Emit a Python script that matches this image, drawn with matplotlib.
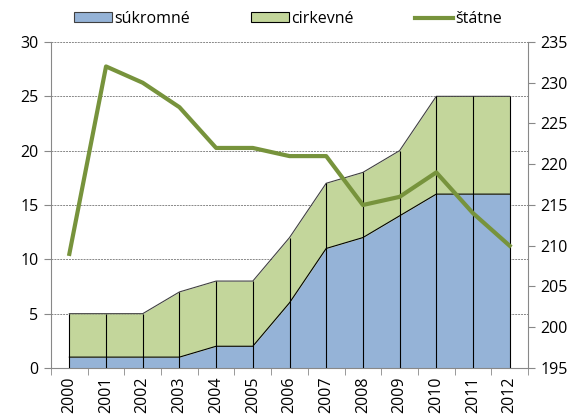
import numpy as np
import matplotlib.pyplot as plt
from matplotlib.lines import Line2D
from matplotlib.patches import Patch

plt.rcParams['font.family'] = ['Open Sans', 'DejaVu Sans']

years = ['2000', '2001', '2002', '2003', '2004', '2005', '2006',
         '2007', '2008', '2009', '2010', '2011', '2012']
sukromne = [1, 1, 1, 1, 2, 2, 6, 11, 12, 14, 16, 16, 16]
cirkevne = [4, 4, 4, 6, 6, 6, 6, 6, 6, 6, 9, 9, 9]
statne = [209, 232, 230, 227, 222, 222, 221, 221, 215, 216, 219, 214, 210]

blue = '#95B3D7'
green = '#C3D69B'
line_col = '#77933C'

x = np.arange(len(years))
total = np.array(sukromne) + np.array(cirkevne)

fig = plt.figure(figsize=(5.8, 4.19), dpi=100)
ax = fig.add_axes([51 / 580, 1 - 368 / 419, 477 / 580, 326 / 419])

# stacked areas
ax.fill_between(x, 0, sukromne, color=blue, lw=0, zorder=2)
ax.fill_between(x, sukromne, total, color=green, lw=0, zorder=2)
ax.plot(x, sukromne, color='black', lw=0.8, zorder=3)
ax.plot(x, total, color='#404040', lw=0.8, zorder=3)
ax.vlines(x, 0, total, color='black', lw=0.8, zorder=3)

ax.set_xlim(-0.5, len(years) - 0.5)
ax.set_ylim(0, 30)
ax.set_yticks(range(0, 31, 5))
ax.set_xticks(x)
ax.set_xticklabels(years, rotation=90, fontsize=11.5)
ax.set_xticks(np.arange(-0.5, len(years)), minor=True)
ax.tick_params(axis='x', which='major', length=0, pad=6)
ax.tick_params(axis='x', which='minor', length=5, color='#888888')
ax.tick_params(axis='y', length=5, color='#888888', labelsize=11.5, pad=4)
ax.grid(axis='y', color='#888888', ls=(0, (2, 1)), lw=0.7, zorder=0)
ax.set_axisbelow(True)
for s in ['top', 'right']:
    ax.spines[s].set_visible(False)
ax.spines['left'].set_color('#888888')
ax.spines['bottom'].set_color('#888888')

# right axis with statne line
ax2 = ax.twinx()
ax2.plot(x, statne, color=line_col, lw=3, zorder=4)
ax2.set_ylim(195, 235)
ax2.set_yticks(range(195, 236, 5))
ax2.tick_params(axis='y', length=5, color='#888888', labelsize=11.5, pad=4)
for s in ['top', 'left', 'bottom']:
    ax2.spines[s].set_visible(False)
ax2.spines['right'].set_color('#888888')

handles = [Patch(facecolor=blue, edgecolor='#404040', lw=0.8),
           Patch(facecolor=green, edgecolor='black', lw=0.8),
           Line2D([0], [0], color=line_col, lw=3)]
fig.legend(handles, ['súkromné', 'cirkevné', 'štátne'], loc='center',
           bbox_to_anchor=(288 / 580, 1 - 19 / 419), ncol=3, frameon=False,
           fontsize=11.5, handlelength=2.4, handleheight=0.6,
           handletextpad=0.15, columnspacing=3.8)

fig.savefig('out.png', dpi=100)
